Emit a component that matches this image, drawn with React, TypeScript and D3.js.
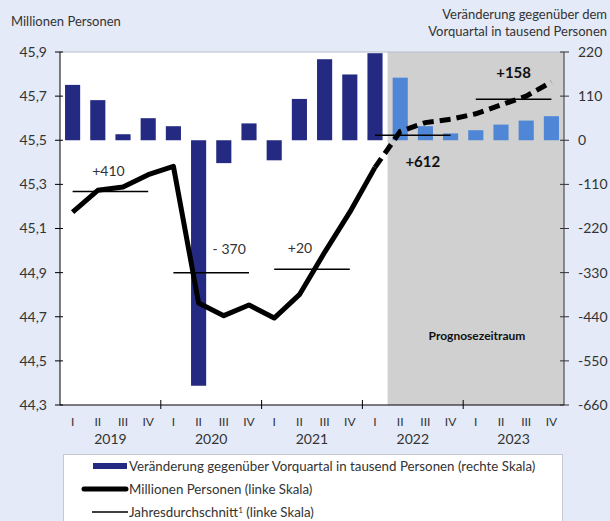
import React from 'react';
import * as d3 from 'd3';

// data
const years = ['2019', '2020', '2021', '2022', '2023'];
const quarterNames = ['I', 'II', 'III', 'IV'];
// change vs. previous quarter, thousand persons (right scale)
const changes = [138, 100, 15, 55, 35, -612, -57, 42, -50, 103, 202, 164, 217, 156, 35, 17, 25, 39, 49, 60];
// persons in millions, observed (2019 Q1 - 2022 Q1)
const persons = [45.174, 45.273, 45.288, 45.344, 45.382, 44.762, 44.705, 44.753, 44.694, 44.8, 44.992, 45.174, 45.377];
// forecast (2022 Q1 - 2023 Q4)
const forecast = [45.377, 45.54, 45.58, 45.595, 45.62, 45.66, 45.7, 45.764];
// yearly averages (left scale) and their change labels
const annualAvg = [45.268, 44.9, 44.915, 45.523, 45.686];
const annualLabels = ['+410', '- 370', '+20', '+612', '+158'];
const leftTicks = [45.9, 45.7, 45.5, 45.3, 45.1, 44.9, 44.7, 44.5, 44.3];
const rightTicks = [220, 110, 0, -110, -220, -330, -440, -550, -660];

const FIRST_FORECAST = 13; // 2022 Q2

const W = 610;
const H = 521;
const margin = { left: 60, right: 46, top: 52, bottom: 116 };
const font = 'Lato, "Open Sans", sans-serif';

const App = () => {
  const labels = years.flatMap(y => quarterNames.map(q => `${y}-${q}`));
  const x = d3.scaleBand().domain(labels).range([margin.left, W - margin.right]).paddingInner(0.4).paddingOuter(0.2);
  const xs = d3.scaleBand().domain(labels).range([margin.left, W - margin.right]);
  const yL = d3.scaleLinear().domain([44.3, 45.9]).range([H - margin.bottom, margin.top]);
  const yR = d3.scaleLinear().domain([-660, 220]).range([H - margin.bottom, margin.top]);
  const cx = (i: number) => xs(labels[i])! + xs.bandwidth() / 2;

  const solid = d3.line<number>().x((d, i) => cx(i)).y(d => yL(d))(persons)!;
  const dashed = d3.line<number>().x((d, i) => cx(i + FIRST_FORECAST - 1)).y(d => yL(d))(forecast)!;

  const x0 = margin.left;
  const x1 = W - margin.right;
  const yTop = margin.top;
  const yBot = H - margin.bottom;
  const grayStart = xs(labels[FIRST_FORECAST])!;

  // label offsets relative to the average line
  const labelPos = [
    { dx: -2, dy: -20, bold: false },
    { dx: 18, dy: -24, bold: false },
    { dx: -12, dy: -21, bold: false },
    { dx: 10, dy: 27, bold: true },
    { dx: 0, dy: -26, bold: true },
  ];

  return (
    <svg width={W} height={H} style={{ position: 'absolute', left: 0, top: 0, display: 'block' }} fontFamily={font}>
      <rect x={0} y={0} width={W} height={H} fill="#e4eaf7" />
      <rect x={x0} y={yTop} width={x1 - x0} height={yBot - yTop} fill="#ffffff" />
      <rect x={grayStart} y={yTop} width={x1 - grayStart} height={yBot - yTop} fill="#d0d0d0" />
      <line x1={x0} x2={x1} y1={yTop} y2={yTop} stroke="#b4bccb" strokeWidth={1} />

      {/* titles */}
      <text x={11} y={26} fontSize={13} fill="#333">Millionen Personen</text>
      <text x={607} y={19} fontSize={13} fill="#333" textAnchor="end">Veränderung gegenüber dem</text>
      <text x={607} y={36} fontSize={13} fill="#333" textAnchor="end">Vorquartal in tausend Personen</text>

      {/* bars */}
      {changes.map((v, i) => (
        <rect key={i} x={x(labels[i])} width={x.bandwidth()}
          y={yR(Math.max(0, v))} height={Math.abs(yR(v) - yR(0))}
          fill={i >= FIRST_FORECAST ? '#4f86d6' : '#242a82'} />
      ))}

      {/* annual averages */}
      {annualAvg.map((v, i) => {
        const a = cx(i * 4);
        const b = cx(i * 4 + 3);
        const p = labelPos[i];
        return (
          <g key={i}>
            <line x1={a} x2={b} y1={yL(v)} y2={yL(v)} stroke="#000" strokeWidth={1.5} />
            <text x={(a + b) / 2 + p.dx} y={yL(v) + p.dy} dy="0.35em" textAnchor="middle"
              fontSize={p.bold ? 15 : 14} fontWeight={p.bold ? 700 : 400} fill={p.bold ? '#111' : '#333'}>
              {annualLabels[i]}
            </text>
          </g>
        );
      })}

      {/* lines */}
      <path d={solid} fill="none" stroke="#000" strokeWidth={5} strokeLinejoin="round" />
      <path d={dashed} fill="none" stroke="#000" strokeWidth={5} strokeDasharray="11 6" />

      <text x={477} y={336} dy="0.35em" textAnchor="middle" fontSize={12} fontWeight={700} fill="#111">Prognosezeitraum</text>

      {/* axes */}
      <line x1={x0} x2={x0} y1={yTop} y2={yBot} stroke="#000" strokeWidth={1} />
      <line x1={x1} x2={x1} y1={yTop} y2={yBot} stroke="#333" strokeWidth={1} />
      <line x1={x0} x2={x1} y1={yBot} y2={yBot} stroke="#000" strokeWidth={1} />
      {leftTicks.map(t => (
        <g key={t}>
          <line x1={x0 - 5} x2={x0 + 3} y1={yL(t)} y2={yL(t)} stroke="#000" />
          <text x={47} y={yL(t)} dy="0.35em" textAnchor="end" fontSize={14} fill="#333">
            {d3.format('.1f')(t).replace('.', ',')}
          </text>
        </g>
      ))}
      {rightTicks.map(t => (
        <g key={t}>
          <line x1={x1 - 4} x2={x1 + 5} y1={yR(t)} y2={yR(t)} stroke="#333" />
          <text x={578} y={yR(t)} dy="0.35em" fontSize={14} fill="#333">{t}</text>
        </g>
      ))}
      {years.map((y, i) => {
        const xb = xs(labels[i * 4])!;
        return (
          <g key={y}>
            {i > 0 && <line x1={xb} x2={xb} y1={yBot - 5} y2={yBot + 4} stroke="#000" />}
            <text x={xb + xs.bandwidth() * 2} y={439} dy="0.35em" textAnchor="middle" fontSize={14} fill="#333">{y}</text>
          </g>
        );
      })}
      {labels.map((l, i) => (
        <text key={l} x={cx(i)} y={422} dy="0.35em" textAnchor="middle" fontSize={12} fill="#333">
          {quarterNames[i % 4]}
        </text>
      ))}

      {/* legend */}
      <rect x={63.5} y={454.5} width={499} height={80} fill="#fff" stroke="#c4c8d0" />
      <rect x={93} y={463} width={34} height={6} fill="#242a82" />
      <text x={129} y={466} dy="0.35em" fontSize={13.3} fill="#333">Veränderung gegenüber Vorquartal in tausend Personen (rechte Skala)</text>
      <line x1={84} x2={126} y1={489} y2={489} stroke="#000" strokeWidth={5} strokeLinecap="round" />
      <text x={129} y={489} dy="0.35em" fontSize={13.3} fill="#333">Millionen Personen (linke Skala)</text>
      <line x1={92} x2={128} y1={512} y2={512} stroke="#000" strokeWidth={1.5} />
      <text x={129} y={512} dy="0.35em" fontSize={13.3} fill="#333">Jahresdurchschnitt<tspan fontSize={8} dy="-4">1</tspan><tspan dy="4"> (linke Skala)</tspan></text>
    </svg>
  );
};

export default App;
